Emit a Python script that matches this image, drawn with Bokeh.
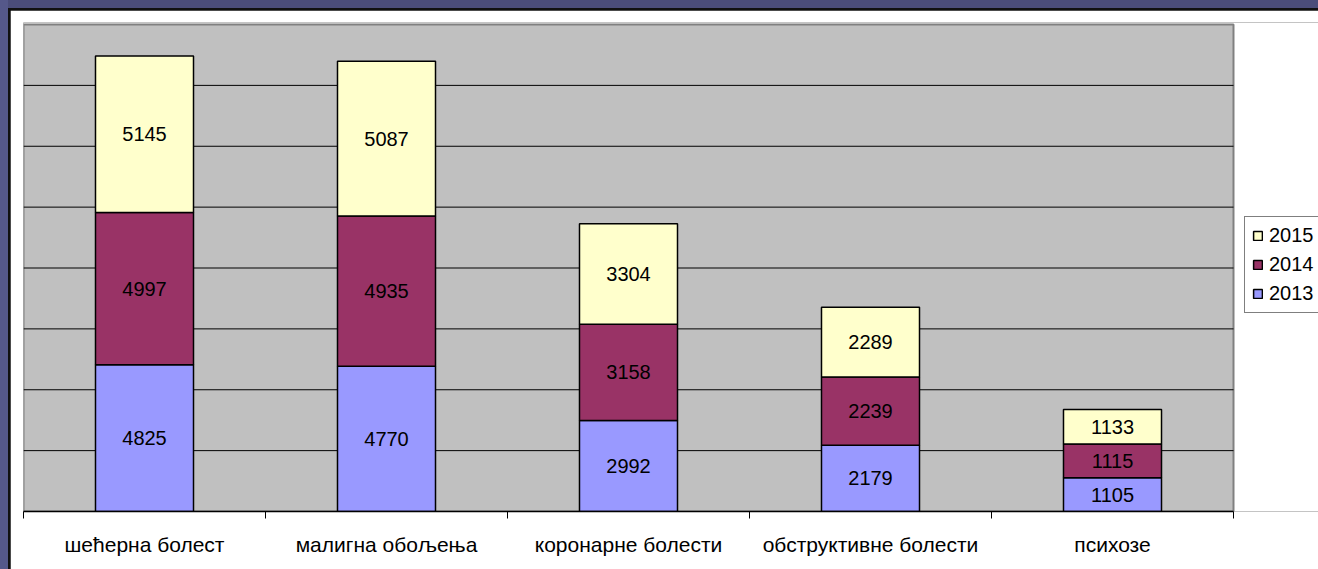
from bokeh.plotting import figure
from bokeh.models import (ColumnDataSource, FixedTicker, Legend, LegendItem,
                          GlobalInlineStyleSheet, Range1d)
from bokeh.core.properties import value
from bokeh.embed import file_html
from bokeh.resources import INLINE

# ---- data ----
categories = ["шећерна болест", "малигна обољења", "коронарне болести",
              "обструктивне болести", "психозе"]
years = ["2013", "2014", "2015"]
v2013 = [4825, 4770, 2992, 2179, 1105]
v2014 = [4997, 4935, 3158, 2239, 1115]
v2015 = [5145, 5087, 3304, 2289, 1133]
colors = ["#9999FF", "#993366", "#FFFFCC"]
y_max = 16000
grid_ticks = [2000, 4000, 6000, 8000, 10000, 12000, 14000]

FONT = "Liberation Sans"
n = len(categories)

x = [i + 0.5 for i in range(n)]
src = ColumnDataSource({"x": x, "2013": v2013, "2014": v2014, "2015": v2015})

# canvas placed at page (10,10); plot area spans page x 23..1233, y 24..511
W, H = 1308, 559
left_b, top_b, bottom_b = 13, 12, 58
frame_w = W - left_b
frame_h = H - top_b - bottom_b
plot_px = 1210
x_end = n * frame_w / plot_px
y_end = y_max * frame_h / (frame_h - 2)

p = figure(width=W, height=H, x_range=Range1d(0, x_end),
           y_range=Range1d(0, y_end), output_backend="svg",
           toolbar_location=None, min_border_left=left_b, min_border_top=top_b,
           min_border_right=0, min_border_bottom=bottom_b)
p.margin = (10, 0, 0, 10)

p.stylesheets = [GlobalInlineStyleSheet(css=(
    "body{background:"
    "linear-gradient(#55588a,#55588a) 0 0/8px 100% no-repeat,"
    "linear-gradient(#4b4d7a,#4b4d7a) 0 0/100% 8px no-repeat,"
    "#111111 !important;}"))]

p.background_fill_color = "white"
p.border_fill_color = "white"
p.outline_line_color = None
p.xgrid.visible = False
p.ygrid.visible = False
p.yaxis.visible = False

# gray plot area
p.quad(left=[0], right=[n], bottom=[0], top=[y_max], fill_color="#C0C0C0",
       line_color="#808080", line_width=2)
# horizontal gridlines
p.segment(x0=[0] * len(grid_ticks), x1=[n] * len(grid_ticks), y0=grid_ticks,
          y1=grid_ticks, line_color="black", line_width=1)

renderers = p.vbar_stack(years, x="x", width=0.405, source=src,
                         fill_color=colors, line_color="black", line_width=1.5)

# value labels in the middle of each segment
series = [v2013, v2014, v2015]
lx, ly, lt = [], [], []
for i in range(n):
    base = 0
    for s in series:
        lx.append(x[i])
        ly.append(base + s[i] / 2)
        lt.append(str(s[i]))
        base += s[i]
lsrc = ColumnDataSource(dict(x=lx, y=ly, t=lt))
p.text(x="x", y="y", text="t", source=lsrc, text_align="center",
       text_baseline="middle", text_font=value(FONT), text_font_size="20px",
       text_color="black")

# x axis
ax = p.xaxis[0]
ax.bounds = (0, n)
ax.ticker = FixedTicker(ticks=x, minor_ticks=list(range(n + 1)))
ax.major_label_overrides = {xi: c for xi, c in zip(x, categories)}
ax.major_tick_line_color = None
ax.major_tick_out = 0
ax.major_tick_in = 0
ax.minor_tick_line_color = "black"
ax.minor_tick_out = 7
ax.minor_tick_in = 0
ax.axis_line_color = "black"
ax.axis_line_width = 1.5
ax.major_label_text_font = FONT
ax.major_label_text_font_size = "21px"
ax.major_label_text_color = "black"
ax.major_label_standoff = 14

# legend (reverse order, right of the plot area)
items = [LegendItem(label=y, renderers=[r]) for y, r in zip(years, renderers)][::-1]
legend = Legend(items=items, location=(1221, 198))
legend.border_line_color = "black"
legend.border_line_width = 1
legend.background_fill_color = "white"
legend.background_fill_alpha = 1
legend.label_text_font = FONT
legend.label_text_font_size = "20px"
legend.label_text_color = "black"
legend.glyph_width = 11
legend.glyph_height = 11
legend.label_height = 22
legend.spacing = 6
legend.padding = 7
legend.margin = 0
legend.label_standoff = 6
p.add_layout(legend, "center")

open("out.html", "w").write(file_html(p, INLINE))
